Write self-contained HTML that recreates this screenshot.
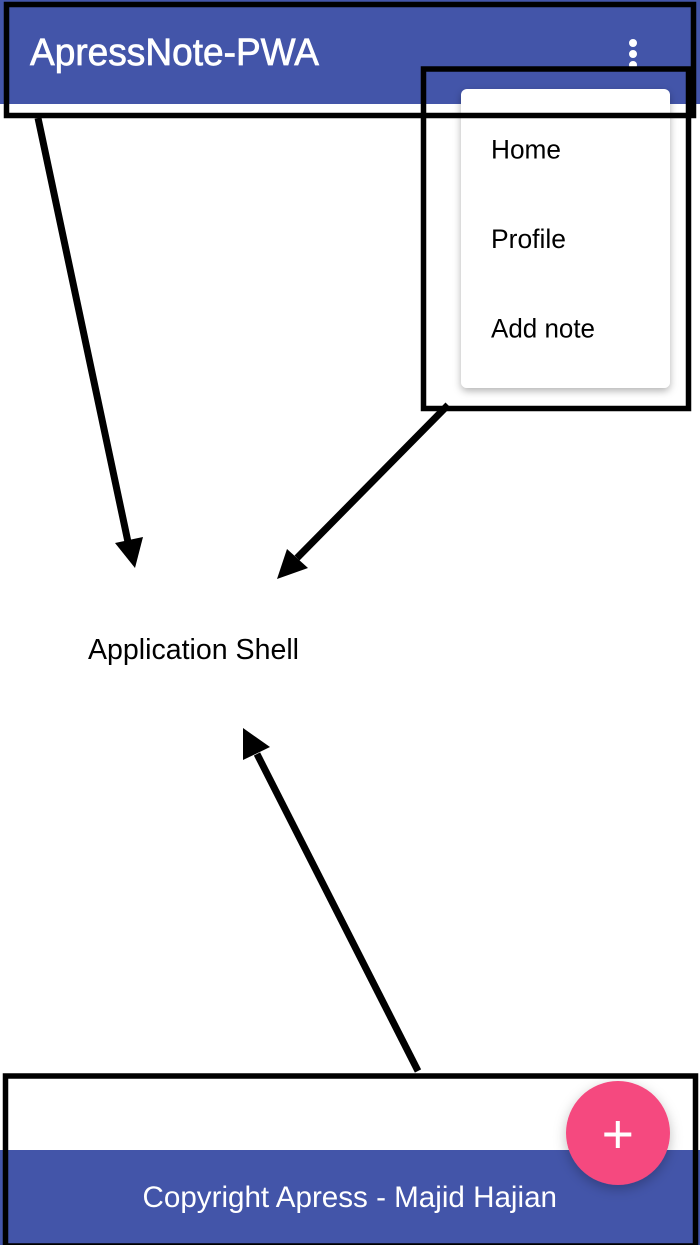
<!DOCTYPE html>
<html><head><meta charset="utf-8"><style>
html,body{margin:0;padding:0;background:#fff;width:700px;height:1245px;overflow:hidden}
svg{display:block}
text{font-family:"Liberation Sans",sans-serif}
</style></head><body>
<svg width="700" height="1245" viewBox="0 0 700 1245" xmlns="http://www.w3.org/2000/svg">
<defs>
<filter id="s1" x="-20%" y="-20%" width="140%" height="140%"><feDropShadow dx="0" dy="3" stdDeviation="4" flood-color="#000" flood-opacity="0.3"/></filter>
<filter id="s2" x="-30%" y="-30%" width="160%" height="160%"><feDropShadow dx="0" dy="4" stdDeviation="6" flood-color="#000" flood-opacity="0.25"/></filter>
</defs>
<rect width="700" height="1245" fill="#fff"/>
<rect x="0" y="0" width="700" height="104" fill="#4355a9"/>
<rect x="0" y="1150" width="700" height="95" fill="#4355a9"/>
<text x="30" y="65" font-size="38" fill="#fff" stroke="#fff" stroke-width="0.7" textLength="289" lengthAdjust="spacingAndGlyphs">ApressNote-PWA</text>
<circle cx="633" cy="43" r="4" fill="#fff"/><circle cx="633" cy="54" r="4" fill="#fff"/><circle cx="633" cy="65" r="4" fill="#fff"/>
<rect x="461" y="89" width="209" height="299" rx="6" fill="#fff" filter="url(#s1)"/>
<text x="491" y="158.4" font-size="26.5" fill="#000" textLength="70" lengthAdjust="spacingAndGlyphs">Home</text>
<text x="491" y="248" font-size="26.5" fill="#000" textLength="75" lengthAdjust="spacingAndGlyphs">Profile</text>
<text x="491" y="337.6" font-size="26.5" fill="#000" textLength="104" lengthAdjust="spacingAndGlyphs">Add note</text>
<text x="142.5" y="1207" font-size="29.5" fill="#fff" textLength="414.5" lengthAdjust="spacingAndGlyphs">Copyright Apress - Majid Hajian</text>
<circle cx="618" cy="1133" r="52" fill="#f5487f" filter="url(#s2)"/>
<rect x="604.3" y="1132.5" width="27" height="4" fill="#fff"/>
<rect x="615.8" y="1121" width="4" height="27" fill="#fff"/>
<g fill="none" stroke="#000">
<rect x="6.5" y="4.5" width="687" height="111" stroke-width="5.5"/>
<rect x="423.5" y="69" width="265" height="339.5" stroke-width="5.5"/>
<rect x="5.5" y="1076" width="690" height="170" stroke-width="5.5"/>
<line x1="38" y1="118" x2="128" y2="542" stroke-width="7"/>
<line x1="448" y1="405" x2="297" y2="558" stroke-width="7"/>
<line x1="418" y1="1071" x2="257" y2="754" stroke-width="7"/>
</g>
<polygon points="135,568 115,543 143,537" fill="#000"/>
<polygon points="277,579 287,549 308,568" fill="#000"/>
<polygon points="243,728 243,760 270,747" fill="#000"/>
<text x="88" y="659" font-size="28.5" fill="#000" textLength="211" lengthAdjust="spacingAndGlyphs">Application Shell</text>
</svg>
</body></html>
